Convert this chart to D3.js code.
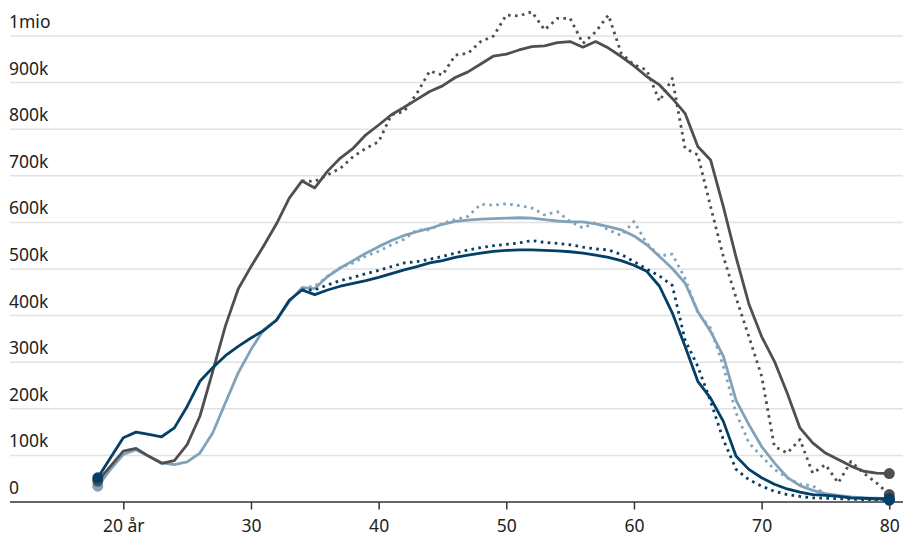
<!DOCTYPE html>
<html>
<head>
<meta charset="utf-8">
<script src="https://cdn.jsdelivr.net/npm/d3@7"></script>
<style>
  body { margin: 0; background: #fff; }
  svg { display: block; font-family: "Noto Sans", "Open Sans", sans-serif; }
</style>
</head>
<body>
<svg id="chart"></svg>
<script>
// ages 18..80, values in thousands
const ages = d3.range(18, 81);

const yTicks = [0, 100, 200, 300, 400, 500, 600, 700, 800, 900, 1000];
const yTickLabels = ["0", "100k", "200k", "300k", "400k", "500k", "600k", "700k", "800k", "900k", "1mio"];
const xTicks = [20, 30, 40, 50, 60, 70, 80];
const xTickLabels = ["20 år", "30", "40", "50", "60", "70", "80"];

const grayLine = [
  45, 77, 109, 115, 98, 83, 89, 123, 184, 280,
  378, 457, 505, 550, 597, 652, 689, 674, 710, 738,
  759, 788, 809, 831, 847, 864, 881, 893, 911, 923,
  940, 957, 961, 970, 977, 979, 986, 988, 976, 988,
  974, 956, 936, 913, 895, 866, 834, 763, 734, 634,
  525, 425, 355, 302, 234, 159, 127, 105, 91, 77,
  66, 62, 61
];

// dotted series only begin at age 34
const grayDotted = [
  null, null, null, null, null, null, null, null, null, null,
  null, null, null, null, null, null, 689, 688, 702, 716,
  741, 759, 773, 831, 838, 877, 925, 916, 959, 963,
  988, 1000, 1045, 1043, 1052, 1013, 1038, 1038, 984, 1009,
  1045, 963, 938, 927, 860, 909, 759, 745, 634, 527,
  438, 355, 270, 119, 105, 134, 62, 80, 41, 87,
  62, 41, 16
];

const lightLine = [
  34, 70, 102, 112, 98, 84, 80, 86, 105, 148,
  213, 277, 327, 370, 391, 430, 460, 458, 484, 502,
  518, 534, 548, 561, 572, 580, 587, 596, 602, 605,
  607, 608, 609, 610, 609, 606, 603, 601, 601, 597,
  591, 584, 571, 552, 527, 501, 470, 409, 366, 313,
  218, 166, 119, 84, 53, 35, 25, 18, 14, 11,
  9, 8, 7
];

const lightDotted = [
  null, null, null, null, null, null, null, null, null, null,
  null, null, null, null, null, null, 460, 463, 484, 503,
  513, 528, 538, 552, 564, 584, 584, 598, 606, 613,
  639, 637, 640, 636, 631, 616, 623, 602, 588, 600,
  584, 572, 602, 555, 528, 532, 480, 406, 373, 291,
  191, 127, 98, 70, 52, 38, 35, 16, 12, 9,
  7, 5, 4
];

const darkLine = [
  52, 95, 138, 150, 145, 140, 159, 205, 259, 288,
  314, 334, 352, 368, 390, 433, 455, 445, 455, 463,
  469, 475, 482, 490, 498, 505, 513, 518, 525, 530,
  534, 538, 540, 541, 541, 540, 539, 537, 534, 530,
  525, 518, 508, 495, 463, 406, 334, 259, 223, 173,
  98, 70, 52, 38, 28, 21, 16, 14, 12, 9,
  8, 7, 7
];

const darkDotted = [
  null, null, null, null, null, null, null, null, null, null,
  null, null, null, null, null, null, 455, 455, 466, 475,
  482, 490, 497, 505, 513, 516, 521, 527, 534, 541,
  546, 550, 553, 556, 561, 557, 555, 552, 547, 543,
  541, 531, 516, 500, 485, 465, 348, 291, 216, 134,
  70, 48, 34, 23, 16, 12, 9, 8, 7, 6,
  5, 5, 4
];

const series = [
  { values: lightDotted, color: "#80a3ba", dotted: true },
  { values: lightLine, color: "#80a3ba", dotted: false },
  { values: grayDotted, color: "#4f4f4f", dotted: true },
  { values: grayLine, color: "#4f4f4f", dotted: false },
  { values: darkDotted, color: "#033f66", dotted: true },
  { values: darkLine, color: "#033f66", dotted: false },
];

const width = 903;
const height = 538;

const svg = d3.select("#chart").attr("width", width).attr("height", height);

const x = d3.scaleLinear().domain([20, 80]).range([123.3, 889.3]);
const y = d3.scaleLinear().domain([0, 1000]).range([502, 36]);

// horizontal grid + labels
const grid = svg.append("g");
grid
  .selectAll("line")
  .data(yTicks.filter(function (d) { return d > 0; }))
  .enter()
  .append("line")
  .attr("x1", 10)
  .attr("x2", width)
  .attr("y1", function (d) { return y(d); })
  .attr("y2", function (d) { return y(d); })
  .attr("stroke", "#e2e2e2")
  .attr("stroke-width", 1.5);

grid
  .selectAll("text")
  .data(yTicks)
  .enter()
  .append("text")
  .attr("x", 9)
  .attr("y", function (d) { return y(d) - 8; })
  .style("fill", "#222")
  .style("font-size", "17.5px")
  .text(function (d, i) { return yTickLabels[i]; });

// x axis
const xAxis = svg
  .append("g")
  .attr("transform", "translate(0," + y(0) + ")")
  .call(d3.axisBottom(x).tickValues(xTicks).tickSize(7.5).tickSizeOuter(0).tickFormat(function (d, i) {
    return xTickLabels[i];
  }));

xAxis.select(".domain").attr("d", "M10,0H" + width).attr("stroke", "#333").attr("stroke-width", 1.5);
xAxis.selectAll(".tick line").attr("stroke", "#333").attr("stroke-width", 1.5);
xAxis
  .selectAll(".tick text")
  .attr("y", 18)
  .style("fill", "#222")
  .style("font-size", "17.5px")
  .style("font-family", "'Noto Sans', 'Open Sans', sans-serif");

// lines
const line = d3
  .line()
  .defined(function (d) { return d.v != null; })
  .x(function (d) { return x(d.age); })
  .y(function (d) { return y(d.v); });

series.forEach(function (s) {
  const pts = ages.map(function (a, i) {
    return { age: a, v: s.values[i] };
  });
  const valid = pts.filter(function (d) { return d.v != null; });

  svg
    .append("path")
    .datum(pts)
    .attr("d", line)
    .attr("fill", "none")
    .attr("stroke", s.color)
    .attr("stroke-width", 2.8)
    .attr("stroke-linejoin", "round")
    .attr("stroke-dasharray", s.dotted ? "2.6 4.4" : null);

  // end markers: solid lines get both ends, dotted only the last
  const ends = s.dotted ? [valid[valid.length - 1]] : [valid[0], valid[valid.length - 1]];
  svg
    .selectAll(null)
    .data(ends)
    .enter()
    .append("circle")
    .attr("cx", function (d) { return x(d.age); })
    .attr("cy", function (d) { return y(d.v); })
    .attr("r", 5.5)
    .attr("fill", s.color);
});
</script>
</body>
</html>
